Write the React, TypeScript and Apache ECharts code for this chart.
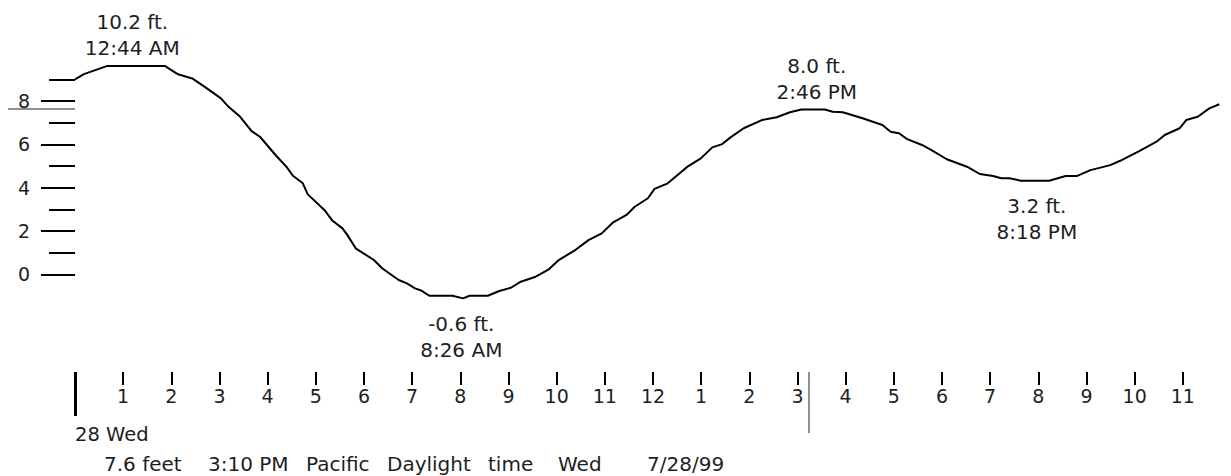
import React, { useEffect, useRef } from "react";
import * as echarts from "echarts";

// Tide curve: hours after midnight, height in feet
const tideHours = [
  0.0, 0.185, 0.658, 1.872, 2.139, 2.433, 2.709, 3.03, 3.188, 3.429, 3.667, 3.84, 4.181, 4.387, 4.525, 4.73,
  4.833, 5.177, 5.348, 5.553, 5.656, 5.827, 6.205, 6.376, 6.72, 6.89, 7.061, 7.199, 7.357, 7.836, 8.056, 8.192,
  8.571, 8.809, 9.05, 9.255, 9.564, 9.838, 10.043, 10.387, 10.66, 10.936, 11.174, 11.45, 11.621, 11.894, 12.032,
  12.306, 12.511, 12.717, 12.993, 13.231, 13.437, 13.61, 13.883, 14.26, 14.568, 14.844, 15.082, 15.564, 15.734,
  15.94, 16.351, 16.763, 16.933, 17.106, 17.277, 17.585, 17.791, 18.1, 18.546, 18.785, 19.06, 19.231, 19.402,
  19.642, 20.224, 20.568, 20.808, 21.082, 21.493, 21.699, 22.075, 22.454, 22.624, 22.933, 23.07, 23.309, 23.55,
  23.756,
];
const tideFeet = [
  9.0, 9.24, 9.61, 9.61, 9.23, 9.04, 8.63, 8.12, 7.73, 7.27, 6.61, 6.35, 5.46, 4.97, 4.55, 4.2,
  3.69, 2.97, 2.47, 2.12, 1.81, 1.2, 0.66, 0.28, -0.26, -0.42, -0.65, -0.76, -0.99, -0.99, -1.11, -0.99,
  -0.99, -0.77, -0.62, -0.34, -0.11, 0.23, 0.66, 1.12, 1.58, 1.89, 2.4, 2.74, 3.12, 3.51, 3.94,
  4.2, 4.58, 4.97, 5.35, 5.86, 6.01, 6.32, 6.74, 7.12, 7.25, 7.48, 7.61, 7.61, 7.5,
  7.48, 7.2, 6.89, 6.58, 6.51, 6.24, 5.97, 5.72, 5.31, 4.94, 4.63, 4.54, 4.43, 4.43,
  4.32, 4.32, 4.54, 4.54, 4.81, 5.04, 5.24, 5.66, 6.12, 6.43, 6.74, 7.12, 7.27, 7.66,
  7.85,
];

// High / low tide annotations
const extremeLabels = ["10.2 ft.\n12:44 AM", "-0.6 ft.\n8:26 AM", "8.0 ft.\n2:46 PM", "3.2 ft.\n8:18 PM"];
const extremeLabelHours = [1.19, 8.02, 15.4, 19.97];
const extremeLabelFeet = [11.06, -2.87, 9.01, 2.55];

// Axes
const majorFeet = [0, 2, 4, 6, 8];
const minorFeet = [1, 3, 5, 7, 9];
const hourTicks = [1, 2, 3, 4, 5, 6, 7, 8, 9, 10, 11, 12, 13, 14, 15, 16, 17, 18, 19, 20, 21, 22, 23];
const hourLabels = ["1", "2", "3", "4", "5", "6", "7", "8", "9", "10", "11", "12", "1", "2", "3", "4", "5", "6", "7", "8", "9", "10", "11"];
const dayStartHour = 0;
const dayLabel = "28 Wed";

// Current reading
const nowHour = 15.24;
const nowFeet = 7.64;
const statusParts = ["7.6 feet", "3:10 PM", "Pacific", "Daylight", "time", "Wed", "7/28/99"];

const FONT = "DejaVu Sans";
const TEXT = "#1e1e1e";
const GREY = "#8f8f8f";

export default function App() {
  const ref = useRef<HTMLDivElement>(null);
  useEffect(() => {
    if (!ref.current) return;
    const chart = echarts.init(ref.current, undefined, { renderer: "svg" });
    const tide = tideHours.map((h, i) => [h, tideFeet[i]]);
    const ann = extremeLabels.map((t, i) => ({ name: t, value: [extremeLabelHours[i], extremeLabelFeet[i]] }));
    const xBase = {
      type: "value",
      min: 0,
      max: 24,
      position: "bottom",
      offset: 11,
      axisLine: { show: false, onZero: false },
      splitLine: { show: false },
    };
    const yBase = {
      type: "value",
      min: -4,
      max: 12,
      position: "left",
      axisLine: { show: false, onZero: false },
      splitLine: { show: false },
    };
    const statusX = [104, 208, 306, 387, 488, 558, 647];
    chart.setOption({
      animation: false,
      grid: { left: 75, right: -11, top: 14.3, bottom: 115, containLabel: false },
      xAxis: [
        {
          ...xBase,
          axisTick: { show: true, customValues: hourTicks, length: 13, lineStyle: { color: "#000", width: 2 } },
          axisLabel: {
            show: true,
            customValues: hourTicks,
            formatter: (v: number) => hourLabels[hourTicks.indexOf(Math.round(v))] ?? "",
            margin: 14,
            fontSize: 19,
            fontFamily: FONT,
            color: TEXT,
          },
        },
        {
          ...xBase,
          axisTick: { show: true, customValues: [dayStartHour], length: 44, lineStyle: { color: "#000", width: 3 } },
          axisLabel: {
            show: true,
            customValues: [dayStartHour],
            formatter: () => dayLabel,
            align: "left",
            margin: 52,
            fontSize: 19.5,
            fontFamily: FONT,
            color: TEXT,
          },
        },
        {
          ...xBase,
          axisTick: { show: true, customValues: [nowHour], length: 61, lineStyle: { color: GREY, width: 2 } },
          axisLabel: { show: false },
        },
      ],
      yAxis: [
        {
          ...yBase,
          axisTick: { show: true, customValues: majorFeet, length: 34, lineStyle: { color: "#000", width: 2 } },
          axisLabel: {
            show: true,
            customValues: majorFeet,
            margin: 45,
            fontSize: 19,
            fontFamily: FONT,
            color: TEXT,
          },
        },
        {
          ...yBase,
          axisTick: { show: true, customValues: minorFeet, length: 26, lineStyle: { color: "#000", width: 2 } },
          axisLabel: { show: false },
        },
        {
          ...yBase,
          axisTick: { show: true, customValues: [nowFeet], length: 67, lineStyle: { color: GREY, width: 2 } },
          axisLabel: { show: false },
        },
      ],
      series: [
        {
          type: "line",
          data: tide,
          showSymbol: false,
          symbol: "none",
          lineStyle: { color: "#000", width: 2 },
          silent: true,
        },
        {
          type: "scatter",
          data: ann,
          symbolSize: 0,
          itemStyle: { color: "#000", opacity: 1 },
          silent: true,
          label: {
            show: true,
            position: "inside",
            formatter: "{b}",
            fontSize: 20,
            lineHeight: 26,
            fontFamily: FONT,
            color: TEXT,
            opacity: 1,
            textBorderWidth: 0,
            align: "center",
            verticalAlign: "middle",
          },
        },
      ],
      graphic: statusParts.map((t, i) => ({
        type: "text",
        x: statusX[i],
        y: 464,
        style: {
          text: t,
          fontSize: 20,
          fontFamily: FONT,
          fill: TEXT,
          verticalAlign: "middle",
        },
      })),
    });
    return () => chart.dispose();
  }, []);
  return (
    <div
      ref={ref}
      style={{ position: "absolute", left: 0, top: 0, width: 1231, height: 476, background: "#fff" }}
    />
  );
}
